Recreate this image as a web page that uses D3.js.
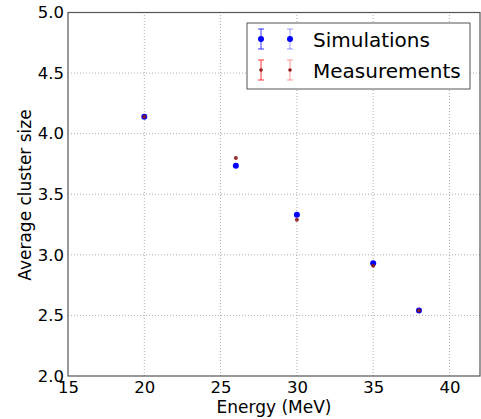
<!DOCTYPE html>
<html><head><meta charset="utf-8">
<script src="https://cdn.jsdelivr.net/npm/d3@7"></script>
<style>body{margin:0;background:#fff}svg{display:block}text{font-family:"DejaVu Sans",sans-serif;fill:#000}</style>
</head><body>
<script>
const energies = [20, 26, 30, 35, 38];
const simulations = [4.14, 3.735, 3.33, 2.93, 2.54];
const measurements = [4.14, 3.80, 3.29, 2.91, 2.54];
const xTicks = [15, 20, 25, 30, 35, 40];
const yTicks = [2.0, 2.5, 3.0, 3.5, 4.0, 4.5, 5.0];
const seriesNames = ["Simulations", "Measurements"];

const W = 481, H = 419;
const svg = d3.select("body").append("svg").attr("width", W).attr("height", H);
const x = d3.scaleLinear().domain([15, 42]).range([68, 480]);
const y = d3.scaleLinear().domain([2, 5]).range([376, 12.5]);

// grid
const g = svg.append("g");
g.selectAll(".gx").data(xTicks.slice(1)).enter().append("line")
  .attr("x1", d => x(d)).attr("x2", d => x(d)).attr("y1", y(2)).attr("y2", y(5))
  .attr("stroke", "#b0b0b0").attr("stroke-width", 1).attr("stroke-dasharray", "1,2");
g.selectAll(".gy").data(yTicks.slice(1, -1)).enter().append("line")
  .attr("x1", x(15)).attr("x2", x(42)).attr("y1", d => y(d)).attr("y2", d => y(d))
  .attr("stroke", "#b0b0b0").attr("stroke-width", 1).attr("stroke-dasharray", "1,2");

// axes
const xAxis = svg.append("g").attr("transform", `translate(0,${y(2)})`)
  .call(d3.axisBottom(x).tickValues(xTicks).tickSize(0).tickPadding(5).tickFormat(d3.format("d")));
const yAxis = svg.append("g").attr("transform", `translate(${x(15)},0)`)
  .call(d3.axisLeft(y).tickValues(yTicks).tickSize(0).tickPadding(4).tickFormat(d3.format(".1f")));
[xAxis, yAxis].forEach(a => {
  a.select(".domain").remove();
  a.selectAll("text").attr("font-size", 16.5).attr("font-family", "DejaVu Sans").attr("fill", "#000");
});
// frame
svg.append("rect").attr("x", x(15)).attr("y", y(5)).attr("width", x(42) - x(15)).attr("height", y(2) - y(5))
  .attr("fill", "none").attr("stroke", "#555").attr("stroke-width", 1.2);

// axis labels
svg.append("text").attr("x", 274).attr("y", 413).attr("text-anchor", "middle").attr("font-size", 17).text("Energy (MeV)");
svg.append("text").attr("transform", `translate(31,195) rotate(-90)`).attr("text-anchor", "middle").attr("font-size", 17).text("Average cluster size");

// points
const simData = energies.map((e, i) => ({e, v: simulations[i]}));
const measData = energies.map((e, i) => ({e, v: measurements[i]}));
svg.append("g").selectAll("circle").data(simData).enter().append("circle")
  .attr("cx", d => x(d.e)).attr("cy", d => y(d.v)).attr("r", 3).attr("fill", "#0000ff");
svg.append("g").selectAll("circle").data(measData).enter().append("circle")
  .attr("cx", d => x(d.e)).attr("cy", d => y(d.v)).attr("r", 2).attr("fill", "#8b1a1a").attr("fill-opacity", 0.9);

// legend
const lg = svg.append("g");
lg.append("rect").attr("x", 247).attr("y", 23).attr("width", 223).attr("height", 66)
  .attr("fill", "#fff").attr("stroke", "#555").attr("stroke-width", 1);
const legendRows = [
  {name: seriesNames[0], cy: 39, color: "#0000ff", dot: "#0000ff", r: 3},
  {name: seriesNames[1], cy: 70, color: "#ff0000", dot: "#8b1a1a", r: 1.8}
];
legendRows.forEach(row => {
  [{lx: 261, op: 0.8}, {lx: 290, op: 0.4}].forEach(m => {
    lg.append("line").attr("x1", m.lx).attr("x2", m.lx).attr("y1", row.cy - 10).attr("y2", row.cy + 10)
      .attr("stroke", row.color).attr("stroke-opacity", m.op).attr("stroke-width", 1);
    [row.cy - 10, row.cy + 10].forEach(cy => lg.append("line").attr("x1", m.lx - 3).attr("x2", m.lx + 3)
      .attr("y1", cy).attr("y2", cy).attr("stroke", row.color).attr("stroke-opacity", m.op));
    lg.append("circle").attr("cx", m.lx).attr("cy", row.cy).attr("r", row.r).attr("fill", row.dot);
  });
  lg.append("text").attr("x", 313).attr("y", row.cy + 8).attr("font-size", 20).text(row.name);
});
</script>
</body></html>
